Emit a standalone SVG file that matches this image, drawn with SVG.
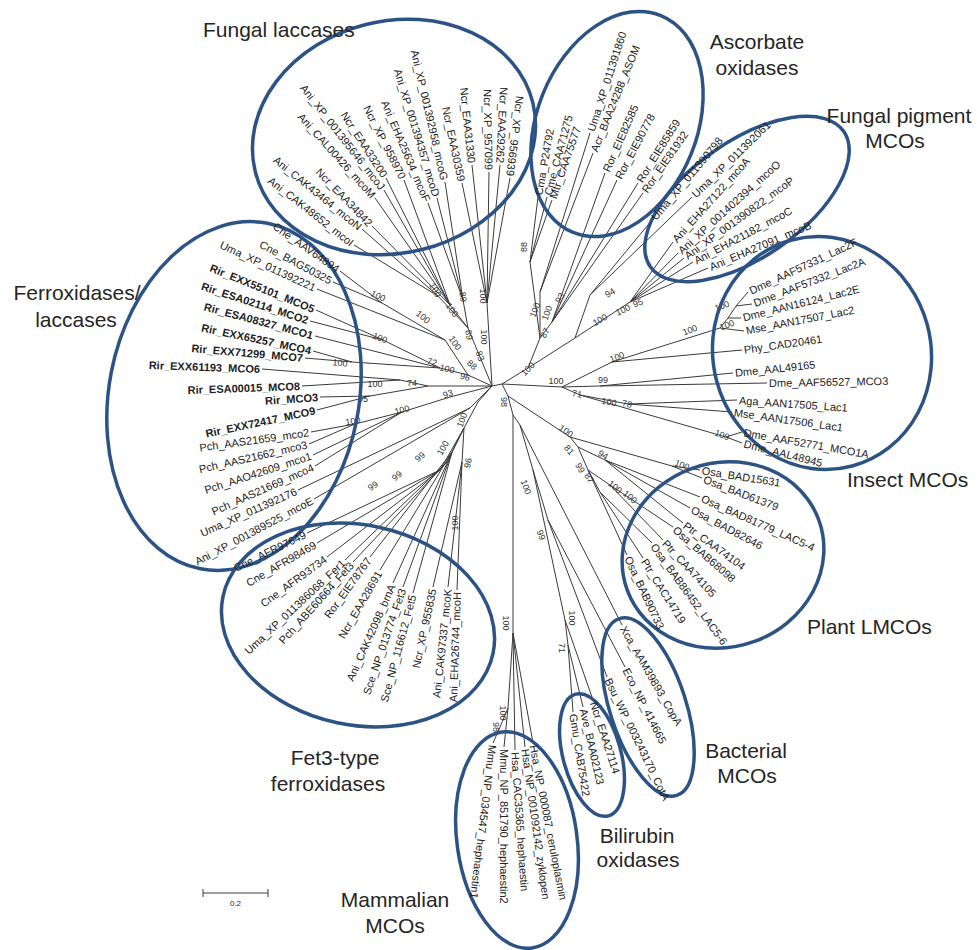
<svg xmlns="http://www.w3.org/2000/svg" width="977" height="950" viewBox="0 0 977 950">
<style>
.e{fill:none;stroke:#2d5385;stroke-width:3.5}
.br{fill:none;stroke:#3a3a3a;stroke-width:1}
text{font-family:"Liberation Sans",Arial,sans-serif;fill:#222}
.lf{font-size:11px}
.b{font-weight:bold}
.bs{font-size:9px;fill:#333}
.t{font-size:21px;fill:#262626}
</style>
<rect width="977" height="950" fill="#fff"/>

<g id="connectors">
<path class="br" d="M492,386L502,384M502,384L508,396
M492,386L468,328M492,386L487,303M468,328L438,296M468,328L450,305M468,328L463,300
M438,296L354,245M438,296L362,229M450,305L372,226M450,305L375,198M450,305L384,190M450,305L386,178M450,305L404,180
M463,300L428,203M463,300L437,198M463,300L445,182
M487,303L462,183M487,303L472,165M487,303L489,172M487,303L500,165M487,303L510,178
M382,303L340,271M382,303L333,282M445,340L382,303M445,340L317,289
M383,340L316,310M383,340L310,321M352,362L313,351M352,362L305,358
M440,368L383,340M440,368L352,362M440,368L315,336M468,375L445,340M468,375L440,368M492,386L468,375
M400,380L262,369M400,380L302,386M370,396L320,397M370,396L317,410M428,386L400,380M428,386L370,396M492,386L428,386
M355,424L311,432M355,424L309,444M402,412L355,424M402,412L313,455M402,412L315,466M450,397L402,412M492,386L450,397
M470,408L298,490M470,408L314,499M492,386L470,408
M440,470L307,533M440,470L317,543M440,470L327,557M447,462L345,560M447,462L353,562
M452,452L370,557M452,452L380,570M452,452L393,583M452,452L403,587M452,452L413,593
M462,462L433,587M462,462L448,587M462,462L457,590
M464,428L440,470M464,428L447,462M464,428L452,452M464,428L462,462M478,402L464,428M492,386L478,402
M530,262L538,197M530,262L547,197M530,262L552,200M540,292L590,133M540,292L593,153
M552,322L605,173M552,322L617,180M552,322L638,183M552,322L643,193
M540,338L530,262M540,338L540,292M540,338L552,322M528,368L540,338M502,384L528,368
M590,295L652,220M590,295L692,197M630,302L673,242M630,302L678,253M630,302L684,258M630,302L693,262M630,302L708,268
M575,338L590,295M575,338L630,302M528,368L575,338
M736,306L748,292M736,306L752,304M728,318L736,306M728,318L741,318M720,328L728,318M720,328L744,331
M612,362L720,328M612,362L742,350M600,386L733,373M600,386L767,383M628,404L737,400M628,404L732,412
M726,437L742,432M726,437L742,443M580,395L628,404M580,395L726,437
M562,387L612,362M562,387L600,386M562,387L580,395M502,384L562,387
M672,466L700,470M672,466L702,478M605,460L700,497M605,460L690,508M605,460L683,523
M610,485L673,527M610,485L663,540M600,492L652,543M600,492L643,558
M588,470L610,485M588,470L600,492M588,470L627,555M578,447L605,460M578,447L588,470
M570,437L672,466M570,437L578,447M508,396L570,437
M508,396L513,415M513,415L520,425M520,425L622,625M520,425L533,470M533,470L548,520
M548,520L625,667M548,520L607,677M533,470L565,620M565,620L593,700M565,620L568,645
M568,645L583,707M568,645L573,712
M513,415L513,633M513,633L533,743M513,633L525,747M513,633L515,750M513,633L508,708
M508,708L504,747M508,708L500,727M500,727L493,743"/>
</g>

<g id="bootstrap" class="bs" text-anchor="middle">
<text class="bs" transform="translate(435,290) rotate(60)" dy="3">100</text>
<text class="bs" transform="translate(463,297) rotate(80)" dy="3">89</text>
<text class="bs" transform="translate(483,296) rotate(90)" dy="3">100</text>
<text class="bs" transform="translate(452,310) rotate(55)" dy="3">100</text>
<text class="bs" transform="translate(423,317) rotate(40)" dy="3">100</text>
<text class="bs" transform="translate(378,296) rotate(25)" dy="3">100</text>
<text class="bs" transform="translate(380,338) rotate(20)" dy="3">100</text>
<text class="bs" transform="translate(455,343) rotate(55)" dy="3">100</text>
<text class="bs" transform="translate(469,335) rotate(80)" dy="3">89</text>
<text class="bs" transform="translate(484,337) rotate(90)" dy="3">100</text>
<text class="bs" transform="translate(480,356) rotate(70)" dy="3">83</text>
<text class="bs" transform="translate(472,365) rotate(40)" dy="3">88</text>
<text class="bs" transform="translate(465,377) rotate(15)" dy="3">96</text>
<text class="bs" transform="translate(432,362) rotate(15)" dy="3">72</text>
<text class="bs" transform="translate(447,369) rotate(15)" dy="3">100</text>
<text class="bs" transform="translate(340,363) rotate(5)" dy="3">100</text>
<text class="bs" transform="translate(375,384) rotate(0)" dy="3">100</text>
<text class="bs" transform="translate(412,383) rotate(0)" dy="3">74</text>
<text class="bs" transform="translate(363,399) rotate(0)" dy="3">95</text>
<text class="bs" transform="translate(448,394) rotate(-20)" dy="3">93</text>
<text class="bs" transform="translate(402,410) rotate(-15)" dy="3">100</text>
<text class="bs" transform="translate(353,421) rotate(-10)" dy="3">100</text>
<text class="bs" transform="translate(462,420) rotate(-70)" dy="3">100</text>
<text class="bs" transform="translate(443,448) rotate(-60)" dy="3">100</text>
<text class="bs" transform="translate(468,463) rotate(-80)" dy="3">96</text>
<text class="bs" transform="translate(420,457) rotate(-40)" dy="3">99</text>
<text class="bs" transform="translate(397,476) rotate(-40)" dy="3">99</text>
<text class="bs" transform="translate(373,486) rotate(-35)" dy="3">99</text>
<text class="bs" transform="translate(455,523) rotate(-90)" dy="3">100</text>
<text class="bs" transform="translate(524,247) rotate(-90)" dy="3">88</text>
<text class="bs" transform="translate(535,310) rotate(-70)" dy="3">100</text>
<text class="bs" transform="translate(547,313) rotate(-70)" dy="3">100</text>
<text class="bs" transform="translate(560,298) rotate(-60)" dy="3">93</text>
<text class="bs" transform="translate(545,333) rotate(-60)" dy="3">87</text>
<text class="bs" transform="translate(528,369) rotate(-45)" dy="3">100</text>
<text class="bs" transform="translate(610,293) rotate(-30)" dy="3">94</text>
<text class="bs" transform="translate(600,320) rotate(-30)" dy="3">100</text>
<text class="bs" transform="translate(623,310) rotate(-25)" dy="3">100</text>
<text class="bs" transform="translate(638,303) rotate(-20)" dy="3">95</text>
<text class="bs" transform="translate(556,381) rotate(0)" dy="3">100</text>
<text class="bs" transform="translate(603,380) rotate(0)" dy="3">99</text>
<text class="bs" transform="translate(617,357) rotate(-20)" dy="3">100</text>
<text class="bs" transform="translate(690,330) rotate(-20)" dy="3">100</text>
<text class="bs" transform="translate(722,306) rotate(-20)" dy="3">100</text>
<text class="bs" transform="translate(727,325) rotate(-20)" dy="3">100</text>
<text class="bs" transform="translate(577,394) rotate(10)" dy="3">71</text>
<text class="bs" transform="translate(609,402) rotate(10)" dy="3">100</text>
<text class="bs" transform="translate(627,404) rotate(10)" dy="3">78</text>
<text class="bs" transform="translate(722,435) rotate(20)" dy="3">100</text>
<text class="bs" transform="translate(504,402) rotate(90)" dy="3">98</text>
<text class="bs" transform="translate(566,431) rotate(35)" dy="3">100</text>
<text class="bs" transform="translate(569,450) rotate(50)" dy="3">81</text>
<text class="bs" transform="translate(603,455) rotate(30)" dy="3">94</text>
<text class="bs" transform="translate(580,468) rotate(60)" dy="3">99</text>
<text class="bs" transform="translate(589,478) rotate(60)" dy="3">87</text>
<text class="bs" transform="translate(615,487) rotate(40)" dy="3">100</text>
<text class="bs" transform="translate(630,497) rotate(40)" dy="3">100</text>
<text class="bs" transform="translate(682,465) rotate(20)" dy="3">100</text>
<text class="bs" transform="translate(526,487) rotate(70)" dy="3">100</text>
<text class="bs" transform="translate(541,535) rotate(70)" dy="3">99</text>
<text class="bs" transform="translate(572,618) rotate(90)" dy="3">100</text>
<text class="bs" transform="translate(562,648) rotate(90)" dy="3">71</text>
<text class="bs" transform="translate(506,623) rotate(90)" dy="3">100</text>
<text class="bs" transform="translate(503,713) rotate(90)" dy="3">100</text>
<text class="bs" transform="translate(496,727) rotate(90)" dy="3">98</text>
</g>

<g id="fungal-laccases">
<ellipse class="e" cx="394" cy="137" rx="143" ry="116" transform="rotate(-14 394 137)"/>
<text class="t" x="203" y="37">Fungal laccases</text>
<g class="lf" text-anchor="end">
<text class="lf" transform="translate(354,245) rotate(38)" x="-2" dy="4">Ani_CAK48652_mcoI</text>
<text class="lf" transform="translate(362,229) rotate(39)" x="-2" dy="4">Ani_CAK43464_mcoN</text>
<text class="lf" transform="translate(372,226) rotate(46)" x="-2" dy="4">Ncr_EAA34842</text>
<text class="lf" transform="translate(375,198) rotate(48)" x="-2" dy="4">Ani_CAL00426_mcoM</text>
<text class="lf" transform="translate(384,190) rotate(52)" x="-2" dy="4">Ani_XP_001395646_mcoJ</text>
<text class="lf" transform="translate(386,178) rotate(57)" x="-2" dy="4">Ncr_EAA33200</text>
<text class="lf" transform="translate(404,180) rotate(63)" x="-2" dy="4">Ncr_XP_958970</text>
<text class="lf" transform="translate(428,203) rotate(67)" x="-2" dy="4">Ani_EHA25634_mcoF</text>
<text class="lf" transform="translate(437,198) rotate(73)" x="-2" dy="4">Ani_XP_001394357_mcoD</text>
<text class="lf" transform="translate(445,182) rotate(77)" x="-2" dy="4">Ani_XP_001392958_mcoG</text>
<text class="lf" transform="translate(462,183) rotate(78)" x="-2" dy="4">Ncr_EAA30359</text>
<text class="lf" transform="translate(472,165) rotate(84)" x="-2" dy="4">Ncr_EAA31330</text>
<text class="lf" transform="translate(489,172) rotate(89)" x="-2" dy="4">Ncr_XP_957099</text>
<text class="lf" transform="translate(500,165) rotate(93)" x="-2" dy="4">Ncr_EAA29262</text>
<text class="lf" transform="translate(510,178) rotate(97)" x="-2" dy="4">Ncr_XP_956939</text>
</g>
</g>

<g id="ferroxidases-laccases">
<ellipse class="e" cx="234" cy="396" rx="125" ry="176" transform="rotate(11 234 396)"/>
<text class="t" x="77" y="300" text-anchor="middle">Ferroxidases/</text>
<text class="t" x="76" y="327" text-anchor="middle">laccases</text>
<g text-anchor="end">
<text class="lf" transform="translate(340,271) rotate(35)" x="-2" dy="4">Cne_AAV64894</text>
<text class="lf" transform="translate(333,282) rotate(28)" x="-2" dy="4">Cne_BAG50325</text>
<text class="lf" transform="translate(317,289) rotate(25)" x="-2" dy="4">Uma_XP_011392221</text>
<text class="lf b" transform="translate(316,310) rotate(22)" x="-2" dy="4">Rir_EXX55101_MCO5</text>
<text class="lf b" transform="translate(310,321) rotate(18)" x="-2" dy="4">Rir_ESA02114_MCO2</text>
<text class="lf b" transform="translate(315,336) rotate(15)" x="-2" dy="4">Rir_ESA08327_MCO1</text>
<text class="lf b" transform="translate(313,351) rotate(12)" x="-2" dy="4">Rir_EXX65257_MCO4</text>
<text class="lf b" transform="translate(305,358) rotate(5)" x="-2" dy="4">Rir_EXX71299_MCO7</text>
<text class="lf b" transform="translate(262,369) rotate(2)" x="-2" dy="4">Rir_EXX61193_MCO6</text>
<text class="lf b" transform="translate(302,386) rotate(-2)" x="-2" dy="4">Rir_ESA00015_MCO8</text>
<text class="lf b" transform="translate(320,397) rotate(-4)" x="-2" dy="4">Rir_MCO3</text>
<text class="lf b" transform="translate(317,410) rotate(-12)" x="-2" dy="4">Rir_EXX72417_MCO9</text>
<text class="lf" transform="translate(311,432) rotate(-8)" x="-2" dy="4">Pch_AAS21659_mco2</text>
<text class="lf" transform="translate(309,444) rotate(-13)" x="-2" dy="4">Pch_AAS21662_mco3</text>
<text class="lf" transform="translate(313,455) rotate(-18)" x="-2" dy="4">Pch_AAO42609_mco1</text>
<text class="lf" transform="translate(315,466) rotate(-24)" x="-2" dy="4">Pch_AAS21669_mco4</text>
<text class="lf" transform="translate(298,490) rotate(-24)" x="-2" dy="4">Uma_XP_011392176</text>
<text class="lf" transform="translate(314,499) rotate(-28)" x="-2" dy="4">Ani_XP_001389525_mcoE</text>
</g>
</g>

<g id="fet3-type-ferroxidases">
<ellipse class="e" cx="358" cy="625" rx="138" ry="100" transform="rotate(12 358 625)"/>
<text class="t" x="335" y="765" text-anchor="middle">Fet3-type</text>
<text class="t" x="328" y="791" text-anchor="middle">ferroxidases</text>
<g text-anchor="end">
<text class="lf" transform="translate(307,533) rotate(-26)" x="-2" dy="4">Cne_AFR97649</text>
<text class="lf" transform="translate(317,543) rotate(-30)" x="-2" dy="4">Cne_AFR98469</text>
<text class="lf" transform="translate(327,557) rotate(-36)" x="-2" dy="4">Cne_AFR93734</text>
<text class="lf" transform="translate(345,560) rotate(-43)" x="-2" dy="4">Uma_XP_011386068_Fer1</text>
<text class="lf" transform="translate(353,562) rotate(-48)" x="-2" dy="4">Pch_ABE60664_Fet3</text>
<text class="lf" transform="translate(370,557) rotate(-54)" x="-2" dy="4">Ror_EIE78767</text>
<text class="lf" transform="translate(380,570) rotate(-60)" x="-2" dy="4">Ncr_EAA28691</text>
<text class="lf" transform="translate(393,583) rotate(-66)" x="-2" dy="4">Ani_CAK42098_brnA</text>
<text class="lf" transform="translate(403,587) rotate(-71)" x="-2" dy="4">Sce_NP_013774_Fet3</text>
<text class="lf" transform="translate(413,593) rotate(-75)" x="-2" dy="4">Sce_NP_116612_Fet5</text>
<text class="lf" transform="translate(433,587) rotate(-78)" x="-2" dy="4">Ncr_XP_955835</text>
<text class="lf" transform="translate(448,587) rotate(-84)" x="-2" dy="4">Ani_CAK97337_mcoK</text>
<text class="lf" transform="translate(457,590) rotate(-88)" x="-2" dy="4">Ani_EHA26744_mcoH</text>
</g>
</g>

<g id="ascorbate-oxidases">
<ellipse class="e" cx="617" cy="124" rx="80" ry="117" transform="rotate(22 617 124)"/>
<text class="t" x="757" y="49" text-anchor="middle">Ascorbate</text>
<text class="t" x="757" y="75" text-anchor="middle">oxidases</text>
<text class="lf" transform="translate(538,197) rotate(-80)" x="2" dy="4">Cma_P24792</text>
<text class="lf" transform="translate(547,197) rotate(-75)" x="2" dy="4">Cme_CAA71275</text>
<text class="lf" transform="translate(552,200) rotate(-71)" x="2" dy="4">Mtr_CAA75577</text>
<text class="lf" transform="translate(590,133) rotate(-72)" x="2" dy="4">Uma_XP_011391860</text>
<text class="lf" transform="translate(593,153) rotate(-68)" x="2" dy="4">Acr_BAA24288_ASOM</text>
<text class="lf" transform="translate(605,173) rotate(-66)" x="2" dy="4">Ror_EIE82585</text>
<text class="lf" transform="translate(617,180) rotate(-62)" x="2" dy="4">Ror_EIE90778</text>
<text class="lf" transform="translate(638,183) rotate(-58)" x="2" dy="4">Ror_EIE85859</text>
<text class="lf" transform="translate(643,193) rotate(-55)" x="2" dy="4">Ror_EIE81932</text>
</g>

<g id="fungal-pigment-mcos">
<ellipse class="e" cx="747" cy="199" rx="118" ry="58" transform="rotate(-35 747 199)"/>
<text class="t" x="899" y="123" text-anchor="middle">Fungal pigment</text>
<text class="t" x="895" y="148" text-anchor="middle">MCOs</text>
<text class="lf" transform="translate(652,220) rotate(-50)" x="2" dy="4">Uma_XP_011390798</text>
<text class="lf" transform="translate(692,197) rotate(-44)" x="2" dy="4">Uma_XP_011392061</text>
<text class="lf" transform="translate(673,242) rotate(-48)" x="2" dy="4">Ani_EHA27122_mcoA</text>
<text class="lf" transform="translate(678,253) rotate(-42)" x="2" dy="4">Ani_XP_001402394_mcoO</text>
<text class="lf" transform="translate(684,258) rotate(-36)" x="2" dy="4">Ani_XP_001390822_mcoP</text>
<text class="lf" transform="translate(693,262) rotate(-28)" x="2" dy="4">Ani_EHA21182_mcoC</text>
<text class="lf" transform="translate(708,268) rotate(-23)" x="2" dy="4">Ani_EHA27091_mcoB</text>
</g>

<g id="insect-mcos">
<ellipse class="e" cx="822" cy="353" rx="109" ry="117" transform="rotate(-15 822 353)"/>
<text class="t" x="847" y="487">Insect MCOs</text>
<text class="lf" transform="translate(748,292) rotate(-25)" x="2" dy="4">Dme_AAF57331_Lac2F</text>
<text class="lf" transform="translate(752,304) rotate(-21)" x="2" dy="4">Dme_AAF57332_Lac2A</text>
<text class="lf" transform="translate(741,318) rotate(-14)" x="2" dy="4">Dme_AAN16124_Lac2E</text>
<text class="lf" transform="translate(744,331) rotate(-11)" x="2" dy="4">Mse_AAN17507_Lac2</text>
<text class="lf" transform="translate(742,350) rotate(-8)" x="2" dy="4">Phy_CAD20461</text>
<text class="lf" transform="translate(733,373) rotate(-6)" x="2" dy="4">Dme_AAL49165</text>
<text class="lf" transform="translate(767,383) rotate(-1)" x="2" dy="4">Dme_AAF56527_MCO3</text>
<text class="lf" transform="translate(737,400) rotate(4)" x="2" dy="4">Aga_AAN17505_Lac1</text>
<text class="lf" transform="translate(732,412) rotate(8)" x="2" dy="4">Mse_AAN17506_Lac1</text>
<text class="lf" transform="translate(742,432) rotate(10)" x="2" dy="4">Dme_AAF52771_MCO1A</text>
<text class="lf" transform="translate(742,443) rotate(14)" x="2" dy="4">Dme_AAL48945</text>
</g>

<g id="plant-lmcos">
<ellipse class="e" cx="723" cy="555" rx="102" ry="92" transform="rotate(-20 723 555)"/>
<text class="t" x="807" y="634">Plant LMCOs</text>
<text class="lf" transform="translate(700,470) rotate(9)" x="2" dy="4">Osa_BAD15631</text>
<text class="lf" transform="translate(702,478) rotate(21)" x="2" dy="4">Osa_BAD61379</text>
<text class="lf" transform="translate(700,497) rotate(24)" x="2" dy="4">Osa_BAD81779_LAC5-4</text>
<text class="lf" transform="translate(690,508) rotate(28)" x="2" dy="4">Osa_BAD82646</text>
<text class="lf" transform="translate(683,523) rotate(36)" x="2" dy="4">Ptr_CAA74104</text>
<text class="lf" transform="translate(673,527) rotate(41)" x="2" dy="4">Osa_BAB68098</text>
<text class="lf" transform="translate(663,540) rotate(47)" x="2" dy="4">Ptr_CAA74105</text>
<text class="lf" transform="translate(652,543) rotate(54)" x="2" dy="4">Osa_BAB86452_LAC5-6</text>
<text class="lf" transform="translate(643,558) rotate(58)" x="2" dy="4">Ptr_CAC14719</text>
<text class="lf" transform="translate(627,555) rotate(65)" x="2" dy="4">Osa_BAB90733</text>
</g>

<g id="bacterial-mcos">
<ellipse class="e" cx="648" cy="707" rx="38" ry="93" transform="rotate(-18 648 707)"/>
<text class="t" x="746" y="758" text-anchor="middle">Bacterial</text>
<text class="t" x="747" y="783" text-anchor="middle">MCOs</text>
<text class="lf" transform="translate(622,625) rotate(60)" x="2" dy="4">Xca_AAM39893_CopA</text>
<text class="lf" transform="translate(625,667) rotate(63)" x="2" dy="4">Eco_NP_414665</text>
<text class="lf" transform="translate(607,677) rotate(64)" x="2" dy="4">Bsu_WP_003243170_CotA</text>
</g>

<g id="bilirubin-oxidases">
<ellipse class="e" cx="592" cy="755" rx="29" ry="63" transform="rotate(-15 592 755)"/>
<text class="t" x="637" y="843" text-anchor="middle">Bilirubin</text>
<text class="t" x="638" y="867" text-anchor="middle">oxidases</text>
<text class="lf" transform="translate(593,700) rotate(72)" x="2" dy="4">Ncr_EAA27114</text>
<text class="lf" transform="translate(583,707) rotate(77)" x="2" dy="4">Ave_BAA02123</text>
<text class="lf" transform="translate(573,712) rotate(81)" x="2" dy="4">Gmu_CAB75422</text>
</g>

<g id="mammalian-mcos">
<ellipse class="e" cx="517" cy="840" rx="60" ry="109" transform="rotate(-8 517 840)"/>
<text class="t" x="395" y="907" text-anchor="middle">Mammalian</text>
<text class="t" x="395" y="933" text-anchor="middle">MCOs</text>
<text class="lf" transform="translate(533,743) rotate(79)" x="2" dy="4">Hsa_NP_000087_ceruloplasmin</text>
<text class="lf" transform="translate(525,747) rotate(82)" x="2" dy="4">Hsa_NP_001092142_zyklopen</text>
<text class="lf" transform="translate(515,750) rotate(86)" x="2" dy="4">Hsa_CAC35365_hephaestin</text>
<text class="lf" transform="translate(504,747) rotate(90)" x="2" dy="4">Mmu_NP_851790_hephaestin2</text>
<text class="lf" transform="translate(493,743) rotate(97)" x="2" dy="4">Mmu_NP_034547_hephaestin1</text>
</g>

<g id="scale-bar">
<path class="br" d="M203,893H268M203,889V897M268,889V897"/>
<text x="235.5" y="906" font-size="8" text-anchor="middle" fill="#333">0.2</text>
</g>
</svg>
